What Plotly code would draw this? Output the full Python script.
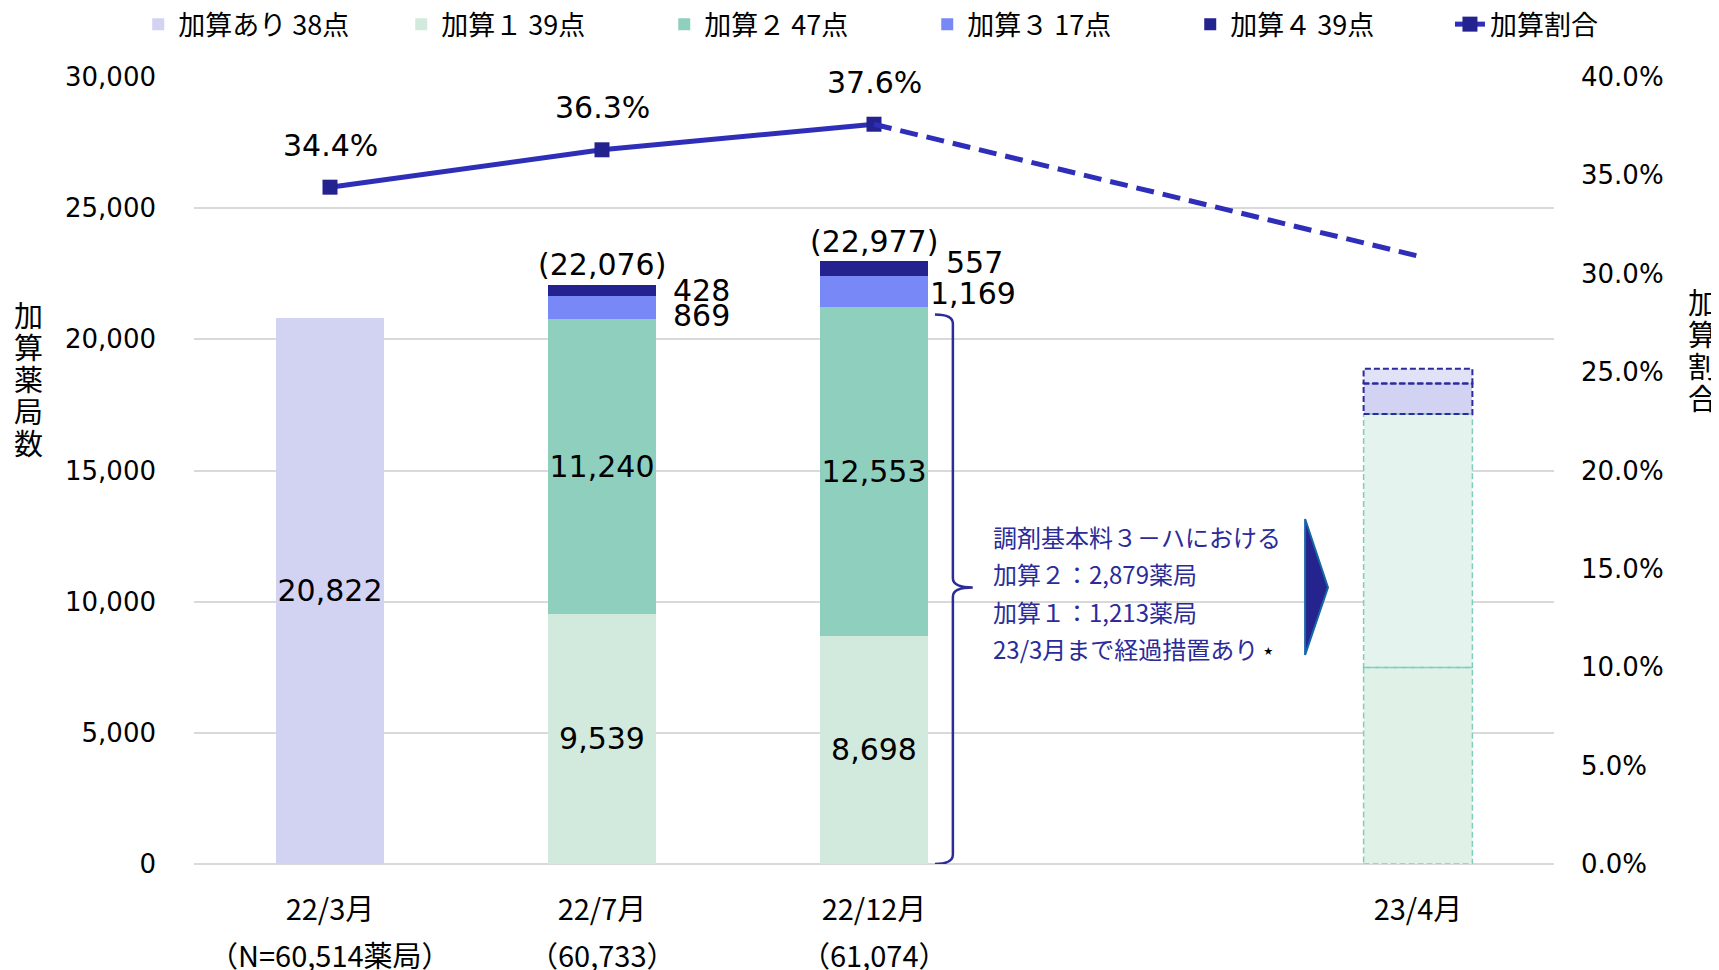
import numpy as np
import plotly.graph_objects as go

# x positions: 23/4月 sits one empty slot to the right
x_pos = [0, 1, 2, 4]
periods = ["22/3月", "22/7月", "22/12月", "23/4月"]
period_sub = ["（N=60,514薬局）", "（60,733）", "（61,074）", ""]

# 加算薬局数 (22/3月, 22/7月, 22/12月)
kasan_ari = [20822, None, None]
kasan1 = [None, 9539, 8698]
kasan2 = [None, 11240, 12553]
kasan3 = [None, 869, 1169]
kasan4 = [None, 428, 557]
totals = [None, 22076, 22977]

# 加算割合
ratio = [0.344, 0.363, 0.376]
ratio_forecast = [0.376, 0.309]

# 23/4月 見込み (bottom -> top)
forecast = [7490, 9660, 1170, 560]

# annotation text
note_lines = [
    "調剤基本料３－ハにおける",
    "加算２：2,879薬局",
    "加算１：1,213薬局",
    "23/3月まで経過措置あり <span style='color:black;font-size:13px'><sup>★</sup></span>",
]

NUM_FONT = "DejaVu Sans"
JP_FONT = "Noto Sans CJK JP"
NAVY = "#2B2B9A"

x3 = x_pos[:3]
fig = go.Figure()

bar_series = [
    ("加算あり 38点", kasan_ari, "#D2D2F2", True),
    ("加算１ 39点", kasan1, "#D2EADD", True),
    ("加算２ 47点", kasan2, "#8FCFBD", True),
    ("加算３ 17点", kasan3, "#7888F7", False),
    ("加算４ 39点", kasan4, "#24228E", False),
]
for name, vals, color, show_text in bar_series:
    fig.add_trace(
        go.Bar(
            x=x3,
            y=vals,
            name=name,
            width=0.4,
            marker=dict(color=color, line=dict(width=0)),
            text=[f"{v:,}" if v else "" for v in vals] if show_text else None,
            textposition="inside" if show_text else "none",
            insidetextanchor="middle",
            textangle=0,
            constraintext="none",
            textfont=dict(family=NUM_FONT, size=30, color="black"),
        )
    )

# 23/4月 forecast segments (fill only, dashed outline drawn as shapes)
fc_fill = ["#E0F1E8", "#E4F3ED", "#D2D2F2", "#E1E1F8"]
fc_edge = ["#7FCDBB", "#7FCDBB", NAVY, NAVY]
for val, color in zip(forecast, fc_fill):
    fig.add_trace(
        go.Bar(
            x=[x_pos[3]],
            y=[val],
            width=0.4,
            marker=dict(color=color, line=dict(width=0)),
            showlegend=False,
            hoverinfo="skip",
        )
    )

fc_top = np.cumsum(forecast)
fc_bottom = fc_top - np.array(forecast)
for y0, y1, edge in zip(fc_bottom, fc_top, fc_edge):
    fig.add_shape(
        type="rect",
        xref="x", yref="y",
        x0=x_pos[3] - 0.2, x1=x_pos[3] + 0.2, y0=y0, y1=y1,
        line=dict(color=edge, width=2 if edge == NAVY else 1.5, dash="6px,3px"),
        layer="above",
    )

# ratio line
fig.add_trace(
    go.Scatter(
        x=x3,
        y=ratio,
        yaxis="y2",
        name="加算割合",
        legend="legend2",
        mode="lines+markers",
        line=dict(color="#2E2EB8", width=5),
        marker=dict(symbol="square", size=15, color="#24228E"),
    )
)
fig.add_trace(
    go.Scatter(
        x=[x_pos[2], x_pos[3]],
        y=ratio_forecast,
        yaxis="y2",
        mode="lines",
        line=dict(color="#2E2EB8", width=5, dash="18px,9px"),
        showlegend=False,
        hoverinfo="skip",
    )
)

# ratio labels
for xi, r in zip(x3, ratio):
    fig.add_annotation(
        x=xi, y=r, yref="y2", text=f"{r:.1%}", showarrow=False,
        yshift=42, font=dict(family=NUM_FONT, size=30, color="black"),
    )

# totals and small segment labels
seg_shift4 = [0, 0, 6]
seg_shift3 = [0, -8, -2]
seg_xshift4 = [0, 15, 16]
seg_xshift3 = [0, 15, 0]
for i in range(1, 3):
    fig.add_annotation(
        x=x3[i], y=totals[i], text=f"({totals[i]:,})", showarrow=False,
        yshift=20, font=dict(family=NUM_FONT, size=30, color="black"),
    )
    base3 = kasan1[i] + kasan2[i]
    fig.add_annotation(
        x=x3[i] + 0.2, y=base3 + kasan3[i] + kasan4[i] / 2, text=f"{kasan4[i]:,}",
        showarrow=False, xanchor="left", xshift=seg_xshift4[i], yshift=seg_shift4[i],
        font=dict(family=NUM_FONT, size=30, color="black"),
    )
    fig.add_annotation(
        x=x3[i] + 0.2, y=base3 + kasan3[i] / 2, text=f"{kasan3[i]:,}",
        showarrow=False, xanchor="left", xshift=seg_xshift3[i], yshift=seg_shift3[i],
        font=dict(family=NUM_FONT, size=30, color="black"),
    )

# second line of the x labels (wider line spacing than ticktext gives)
for xi, s in zip(x_pos, period_sub):
    if s:
        fig.add_annotation(
            x=xi, y=-0.1138, yref="paper", yanchor="middle", text=s, showarrow=False,
            font=dict(family=JP_FONT, size=29, color="black"),
        )

# brace next to 22/12月 bar
b_top = kasan1[2] + kasan2[2] - 300
b_mid = 10540
d = 350
brace = (
    f"M 2.224,0 Q 2.29,0 2.29,{d} "
    f"L 2.29,{b_mid - d} Q 2.29,{b_mid} 2.363,{b_mid} "
    f"Q 2.29,{b_mid} 2.29,{b_mid + d} "
    f"L 2.29,{b_top - d} Q 2.29,{b_top} 2.224,{b_top}"
)
fig.add_shape(type="path", xref="x", yref="y", path=brace,
              line=dict(color=NAVY, width=2.5))

# arrow triangle
fig.add_shape(
    type="path", xref="x", yref="y",
    path="M 3.585,13150 L 3.669,10540 L 3.585,7970 Z",
    fillcolor="#25238E", line=dict(color="#1565A8", width=2),
)

for k, line in enumerate(note_lines):
    fig.add_annotation(
        x=2.43, y=12500, xanchor="left", yanchor="middle", showarrow=False,
        text=line, yshift=-37.6 * k,
        font=dict(family=JP_FONT, size=24, color=NAVY),
    )

# vertical axis titles, one character per row
for title, xp, yc in [("加算薬局数", -0.122, 0.617), ("加算割合", 1.109, 0.655)]:
    n = len(title)
    for k, ch in enumerate(title):
        fig.add_annotation(
            xref="paper", yref="paper", x=xp, y=yc, xanchor="center", yanchor="middle",
            showarrow=False, text=ch, yshift=32 * ((n - 1) / 2 - k),
            font=dict(family=JP_FONT, size=29, color="black"),
        )

legend_font = dict(family=JP_FONT, size=27, color="black")
fig.update_layout(
    width=1719,
    height=970,
    barmode="stack",
    plot_bgcolor="white",
    paper_bgcolor="white",
    margin=dict(l=186, r=173, t=69, b=114, autoexpand=False),
    font=dict(family=JP_FONT, color="black"),
    showlegend=True,
    legend=dict(
        orientation="h", x=-0.041, xanchor="left", y=1.0666, yanchor="middle",
        font=legend_font, entrywidth=218, traceorder="normal",
        bgcolor="rgba(0,0,0,0)",
    ),
    legend2=dict(
        orientation="h", x=0.9235, xanchor="left", y=1.0666, yanchor="middle",
        font=legend_font, bgcolor="rgba(0,0,0,0)",
    ),
    xaxis=dict(
        range=[-0.5, 4.5],
        tickvals=x_pos,
        ticktext=periods,
        showgrid=False, showline=False, zeroline=False, ticks="",
        ticklabelstandoff=26,
        tickfont=dict(family=JP_FONT, size=29, color="black"),
    ),
    yaxis=dict(
        range=[0, 30000], dtick=5000, tickformat=",",
        showgrid=True, gridcolor="#D9D9D9", gridwidth=2,
        zeroline=True, zerolinecolor="#D9D9D9", zerolinewidth=2,
        ticks="", ticklabelstandoff=37,
        tickfont=dict(family=NUM_FONT, size=26, color="black"),
    ),
    yaxis2=dict(
        overlaying="y", side="right", range=[0, 0.4], dtick=0.05, tickformat=".1%",
        showgrid=False, zeroline=False, ticks="", ticklabelstandoff=26,
        tickfont=dict(family=NUM_FONT, size=26, color="black"),
    ),
)

fig.write_html("out.html")
